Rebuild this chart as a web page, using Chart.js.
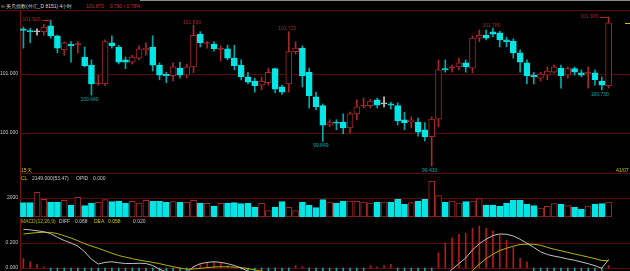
<!DOCTYPE html>
<html><head><meta charset="utf-8">
<script src="https://cdn.jsdelivr.net/npm/chart.js@4/dist/chart.umd.min.js"></script>
<style>
html,body{margin:0;padding:0;background:#000;width:630px;height:271px;overflow:hidden;}
#wrap{position:relative;width:630px;height:271px;background:#000;font-family:"Liberation Sans",Arial,sans-serif;}
canvas{position:absolute;left:0;}
.t{position:absolute;font-size:5px;line-height:6px;white-space:pre;}
#topline{position:absolute;left:140px;top:0;width:490px;height:1px;background:#8c8c8c;}
</style></head><body>
<div id="wrap">
<div id="topline"></div>
<canvas id="cP" width="630" height="164" style="top:10px;width:630px;height:164px"></canvas>
<canvas id="cV" width="630" height="43" style="top:174px;width:630px;height:43px"></canvas>
<canvas id="cM" width="630" height="53" style="top:218px;width:630px;height:53px"></canvas>
<div class="t" style="left:1px;top:3px;color:#d8d8d8">∞ 美元指数(外汇_D 8151) 4小时</div>
<div class="t" style="left:86px;top:3px;color:#c83232">101.870    0.790 / 0.78%</div>
<div class="t" style="left:21px;top:167px;color:#c8c800">15天</div>
<div class="t" style="left:616px;top:167px;color:#c8c800">41/07</div>
<div class="t" style="left:21px;top:175px;color:#c8c800">CL</div>
<div class="t" style="left:32px;top:175px;color:#c8c8c8">2149.000(53.47)</div>
<div class="t" style="left:76px;top:175px;color:#c8c8c8">OPID</div>
<div class="t" style="left:93px;top:175px;color:#c8c8c8">0.000</div>
<div class="t" style="left:21px;top:218px;color:#b8b800">MACD(12,26,9)</div>
<div class="t" style="left:59px;top:218px;color:#c8c8c8">DIFF</div>
<div class="t" style="left:75px;top:218px;color:#c8c8c8">0.068</div>
<div class="t" style="left:94px;top:218px;color:#c8c800">DEA</div>
<div class="t" style="left:108px;top:218px;color:#c8c800">0.058</div>
<div class="t" style="left:133px;top:218px;color:#c8c8c8">0.020</div>
</div>
<script>
const categories = Array.from({length: 87}, (_, i) => 'K' + (i + 1));
const open = [101.77,101.74,101.72,101.72,101.82,101.65,101.41,101.51,101.50,101.29,
101.15,100.83,100.83,101.53,101.46,101.24,101.20,101.27,101.41,101.46,
101.15,101.00,100.97,101.10,100.98,101.12,101.68,101.52,101.51,101.42,
101.43,101.27,101.15,100.95,100.88,100.81,100.85,101.09,100.78,100.83,
101.38,101.44,101.03,100.61,100.46,100.13,100.18,100.18,100.08,100.32,
100.45,100.46,100.56,100.49,100.49,100.46,100.22,100.18,100.18,100.05,
99.93,100.23,101.09,101.10,101.12,101.19,101.10,101.61,101.66,101.72,
101.70,101.58,101.56,101.36,101.19,100.98,100.93,100.98,101.03,101.10,
100.98,101.09,101.02,101.01,101.02,100.88,100.80];
const high = [101.80,101.78,101.77,101.85,101.92,101.66,101.55,101.55,101.55,101.46,
101.24,100.98,101.58,101.65,101.49,101.29,101.32,101.48,101.53,101.65,
101.19,101.03,101.19,101.20,101.17,101.83,101.72,101.55,101.55,101.48,
101.49,101.49,101.24,101.03,100.93,100.95,101.10,101.10,100.81,101.72,
101.55,101.48,101.10,100.69,100.49,100.22,100.22,100.32,100.35,100.56,
100.59,100.57,100.59,100.61,100.52,100.51,100.35,100.27,100.25,100.17,
100.27,101.24,101.24,101.15,101.27,101.24,101.65,101.75,101.75,101.78,
101.73,101.63,101.60,101.41,101.24,101.03,101.03,101.12,101.15,101.15,
101.12,101.12,101.07,101.12,101.07,100.95,101.97];
const low = [101.44,101.53,101.66,101.66,101.61,101.36,101.32,101.20,101.36,101.12,
100.64,100.81,100.80,101.44,101.17,101.09,101.17,101.24,101.32,101.05,
100.90,100.85,100.88,100.93,100.93,101.02,101.46,101.44,101.39,101.22,
101.24,101.07,100.90,100.83,100.69,100.73,100.81,100.68,100.65,100.69,
101.34,100.78,100.42,100.39,99.849,100.10,100.05,99.98,99.99,100.22,
100.42,100.42,100.42,100.44,100.40,100.13,100.05,100.08,99.94,99.86,
99.43,100.10,101.03,101.03,101.07,101.03,101.02,101.55,101.58,101.63,
101.46,101.46,101.27,101.03,100.83,100.83,100.88,100.90,101.02,100.76,
100.93,100.98,100.95,100.76,100.81,100.73,100.76];
const close = [101.74,101.72,101.72,101.80,101.65,101.44,101.53,101.48,101.51,101.14,
100.83,100.85,101.55,101.48,101.20,101.20,101.29,101.43,101.44,101.15,
100.98,100.97,101.12,100.98,101.12,101.66,101.53,101.53,101.43,101.43,
101.27,101.14,100.95,100.86,100.80,100.88,101.03,100.74,100.69,101.38,
101.44,100.97,100.63,100.44,100.13,100.17,100.16,100.08,100.32,100.44,
100.46,100.54,100.47,100.49,100.47,100.20,100.17,100.22,100.01,99.93,
100.23,101.07,101.07,101.12,101.19,101.12,101.61,101.66,101.61,101.68,
101.58,101.55,101.36,101.20,100.97,100.95,101.00,101.05,101.12,100.97,
101.09,101.03,100.98,101.02,100.90,100.81,101.87];
const volume = [1505,1505,2600,1863,1579,1579,1758,1263,2074,1189,
1442,1547,1821,1611,1684,1474,1653,1474,1758,1653,
1653,1547,1611,1547,1547,1758,1474,1442,1158,1442,
1442,1505,1400,1442,1021,1442,663,1053,1611,1021,
663,1547,1263,979,1821,1579,1474,1684,1684,1653,
1579,1474,1547,1579,1579,1863,1337,1505,1684,1863,
3758,2242,1547,1684,1474,1611,1684,1926,1263,1263,
1158,1442,1758,1789,1368,1189,947,1126,1400,1337,
1189,1021,842,1158,1368,1400,1579];
const diff = [0.31,0.305,0.298,0.29,0.275,0.245,0.22,0.2,0.175,0.13,
0.07,0.032,0.045,0.05,0.042,0.036,0.036,0.038,0.036,0.02,
-0.01,-0.03,-0.035,-0.04,-0.035,0.01,0.035,0.045,0.05,0.045,
0.035,0.02,0.0,-0.025,-0.05,-0.065,-0.07,-0.09,-0.11,-0.08,
-0.05,-0.06,-0.09,-0.13,-0.18,-0.21,-0.23,-0.25,-0.25,-0.24,
-0.23,-0.21,-0.2,-0.19,-0.18,-0.19,-0.2,-0.2,-0.21,-0.23,
-0.22,-0.13,-0.06,-0.01,0.035,0.08,0.145,0.195,0.23,0.26,
0.272,0.27,0.256,0.23,0.198,0.165,0.13,0.108,0.095,0.085,
0.072,0.062,0.048,0.035,0.018,-0.002,0.068];
const dea = [0.272,0.278,0.283,0.286,0.285,0.275,0.258,0.24,0.218,0.195,
0.175,0.158,0.138,0.118,0.1,0.087,0.075,0.063,0.054,0.045,
0.035,0.022,0.01,0.0,-0.01,-0.008,-0.003,0.003,0.008,0.01,
0.01,0.008,0.004,-0.005,-0.015,-0.025,-0.035,-0.045,-0.06,-0.065,
-0.06,-0.06,-0.065,-0.08,-0.1,-0.12,-0.14,-0.16,-0.18,-0.19,
-0.2,-0.2,-0.2,-0.2,-0.2,-0.2,-0.2,-0.2,-0.2,-0.21,
-0.21,-0.2,-0.17,-0.13,-0.1,-0.06,-0.02,0.03,0.075,0.11,
0.14,0.158,0.175,0.188,0.19,0.19,0.182,0.165,0.15,0.138,
0.125,0.112,0.1,0.088,0.075,0.06,0.058];
const macd = [0.076,0.05,0.03,0.008,-0.02,-0.06,-0.07,-0.08,-0.085,-0.11,
-0.19,-0.25,-0.19,-0.14,-0.11,-0.1,-0.08,-0.05,-0.036,-0.05,
-0.09,-0.1,-0.09,-0.08,-0.05,0.01,0.03,0.045,0.05,0.04,
0.02,0.005,-0.008,-0.04,-0.07,-0.08,-0.07,-0.09,-0.1,-0.03,
0.02,0.01,-0.05,-0.1,-0.16,-0.18,-0.18,-0.18,-0.14,-0.1,
-0.02,0.02,0.01,0.02,0.03,-0.02,-0.04,-0.04,-0.03,-0.04,
-0.02,0.122,0.2,0.242,0.27,0.278,0.318,0.336,0.318,0.298,
0.264,0.224,0.17,0.078,0.05,-0.05,-0.1,-0.11,-0.11,-0.1,
-0.1,-0.1,-0.1,-0.1,-0.11,-0.12,0.02];
const priceTicks = [100, 101];
const volumeTicks = [2000];
const macdTicks = [0, 0.2];
const highMarks = [4, 25, 39, 69, 86];
const lowMarks = [10, 44, 60, 85];
const sideMarks = [4, 86];

const RED = '#a82828', CYAN = '#00e6e6', GRAY = '#c8c8c8', TEAL = '#00aaaa';
const GRID = '#5a0a0a', AXIS = '#7a1010', TXT = '#c8c8c8';
const FONT = {family: '"Liberation Sans", Arial, sans-serif', size: 5};
function dir(i) { return close[i] > open[i] ? 1 : (close[i] < open[i] ? -1 : 0); }

const hlines = {
  id: 'hlines',
  beforeDatasetsDraw(chart, args, o) {
    const ctx = chart.ctx, ys = chart.scales.y, a = chart.chartArea;
    ctx.save(); ctx.strokeStyle = GRID; ctx.lineWidth = 1; ctx.beginPath();
    (o.values || []).forEach(v => { const py = Math.round(ys.getPixelForValue(v)) + 0.5; ctx.moveTo(a.left, py); ctx.lineTo(chart.width, py); });
    if (o.top) { ctx.moveTo(0, 0.5); ctx.lineTo(chart.width, 0.5); }
    if (o.bottom) { ctx.moveTo(a.left, chart.height - 0.5); ctx.lineTo(chart.width, chart.height - 0.5); }
    ctx.stroke(); ctx.restore();
  }
};
const marks = {
  id: 'marks',
  afterDatasetsDraw(chart, args, o) {
    if (!o.on) return;
    const ctx = chart.ctx, xs = chart.scales.x, ys = chart.scales.y;
    ctx.save(); ctx.font = '5px "Liberation Sans", Arial, sans-serif'; ctx.lineWidth = 1;
    highMarks.forEach(i => {
      const x = xs.getPixelForValue(i), y = ys.getPixelForValue(high[i]), t = high[i].toFixed(3);
      ctx.fillStyle = RED; ctx.strokeStyle = RED;
      if (sideMarks.includes(i)) {
        ctx.textAlign = 'right'; ctx.textBaseline = 'middle'; ctx.fillText(t, x - 10, y);
        ctx.beginPath(); ctx.moveTo(x - 9, Math.round(y) + 0.5); ctx.lineTo(x + 1, Math.round(y) + 0.5); ctx.stroke();
      } else {
        ctx.textAlign = 'center'; ctx.textBaseline = 'bottom'; ctx.fillText(t, x - 1.5, y - 0.5);
      }
    });
    lowMarks.forEach(i => {
      const x = xs.getPixelForValue(i), y = ys.getPixelForValue(low[i]), t = low[i].toFixed(3);
      ctx.fillStyle = TEAL; ctx.textAlign = 'center'; ctx.textBaseline = 'top'; ctx.fillText(t, x - 2, y + 2);
    });
    const last = close.length - 1, cy = Math.round(ys.getPixelForValue(close[last])) + 0.5;
    ctx.strokeStyle = '#c8c800'; ctx.beginPath(); ctx.moveTo(625, cy); ctx.lineTo(630, cy); ctx.stroke();
    ctx.restore();
  }
};

function yAxis(min, max, ticks, fmt) {
  return {
    position: 'left', min, max, bounds: 'data',
    grid: {display: false, drawTicks: false},
    border: {display: true, color: AXIS, width: 1},
    ticks: {color: TXT, font: FONT, padding: 2, callback: fmt, autoSkip: false},
    afterBuildTicks: s => { s.ticks = ticks.map(v => ({value: v})); },
    afterFit: s => { s.width = 20; s.paddingTop = 0; s.paddingBottom = 0; }
  };
}
const xAxis = {type: 'category', display: false, offset: true, grid: {display: false}};
const base = {responsive: false, animation: false, devicePixelRatio: 1, maintainAspectRatio: false,
  layout: {padding: {left: 0, right: 18, top: 0, bottom: 0}}, events: []};

new Chart(document.getElementById('cP'), {
  data: {labels: categories, datasets: [
    {type: 'bar', order: 1, grouped: false, barThickness: 1,
     data: categories.map((c, i) => [low[i], high[i]]),
     backgroundColor: categories.map((c, i) => dir(i) > 0 ? RED : dir(i) < 0 ? TEAL : GRAY), borderWidth: 0},
    {type: 'bar', order: 0, grouped: false, barThickness: 6, minBarLength: 1, borderSkipped: false,
     data: categories.map((c, i) => [open[i], close[i]]),
     backgroundColor: categories.map((c, i) => dir(i) > 0 ? (close[i] - open[i] < 0.025 ? RED : '#000') : dir(i) < 0 ? CYAN : GRAY),
     borderColor: categories.map((c, i) => dir(i) > 0 ? RED : dir(i) < 0 ? CYAN : GRAY), borderWidth: 1}
  ]},
  options: Object.assign({}, base, {
    scales: {x: xAxis, y: yAxis(99.296, 102.09, priceTicks, v => v.toFixed(3))},
    plugins: {legend: {display: false}, tooltip: {enabled: false},
      hlines: {values: priceTicks, top: true, bottom: true}, marks: {on: true}}
  }),
  plugins: [hlines, marks]
});

new Chart(document.getElementById('cV'), {
  data: {labels: categories, datasets: [
    {type: 'bar', barThickness: 6, borderSkipped: false, data: volume,
     backgroundColor: categories.map((c, i) => dir(i) >= 0 ? '#000' : CYAN),
     borderColor: categories.map((c, i) => dir(i) >= 0 ? RED : CYAN), borderWidth: 1}
  ]},
  options: Object.assign({}, base, {
    scales: {x: xAxis, y: yAxis(0, 4526, volumeTicks, v => String(v))},
    plugins: {legend: {display: false}, tooltip: {enabled: false}, hlines: {values: volumeTicks}}
  }),
  plugins: [hlines]
});

new Chart(document.getElementById('cM'), {
  data: {labels: categories, datasets: [
    {type: 'bar', order: 2, barThickness: 1, data: macd,
     backgroundColor: macd.map(v => v >= 0 ? '#b01c1c' : TEAL), borderWidth: 0},
    {type: 'line', order: 1, data: dea, borderColor: '#b4b400', borderWidth: 1, pointRadius: 0, tension: 0},
    {type: 'line', order: 0, data: diff, borderColor: '#c0c0c0', borderWidth: 1, pointRadius: 0, tension: 0}
  ]},
  options: Object.assign({}, base, {
    scales: {x: xAxis, y: yAxis(-0.024, 0.4, macdTicks, v => v.toFixed(3))},
    plugins: {legend: {display: false}, tooltip: {enabled: false}, hlines: {values: macdTicks}}
  }),
  plugins: [hlines]
});
</script>
</body></html>
